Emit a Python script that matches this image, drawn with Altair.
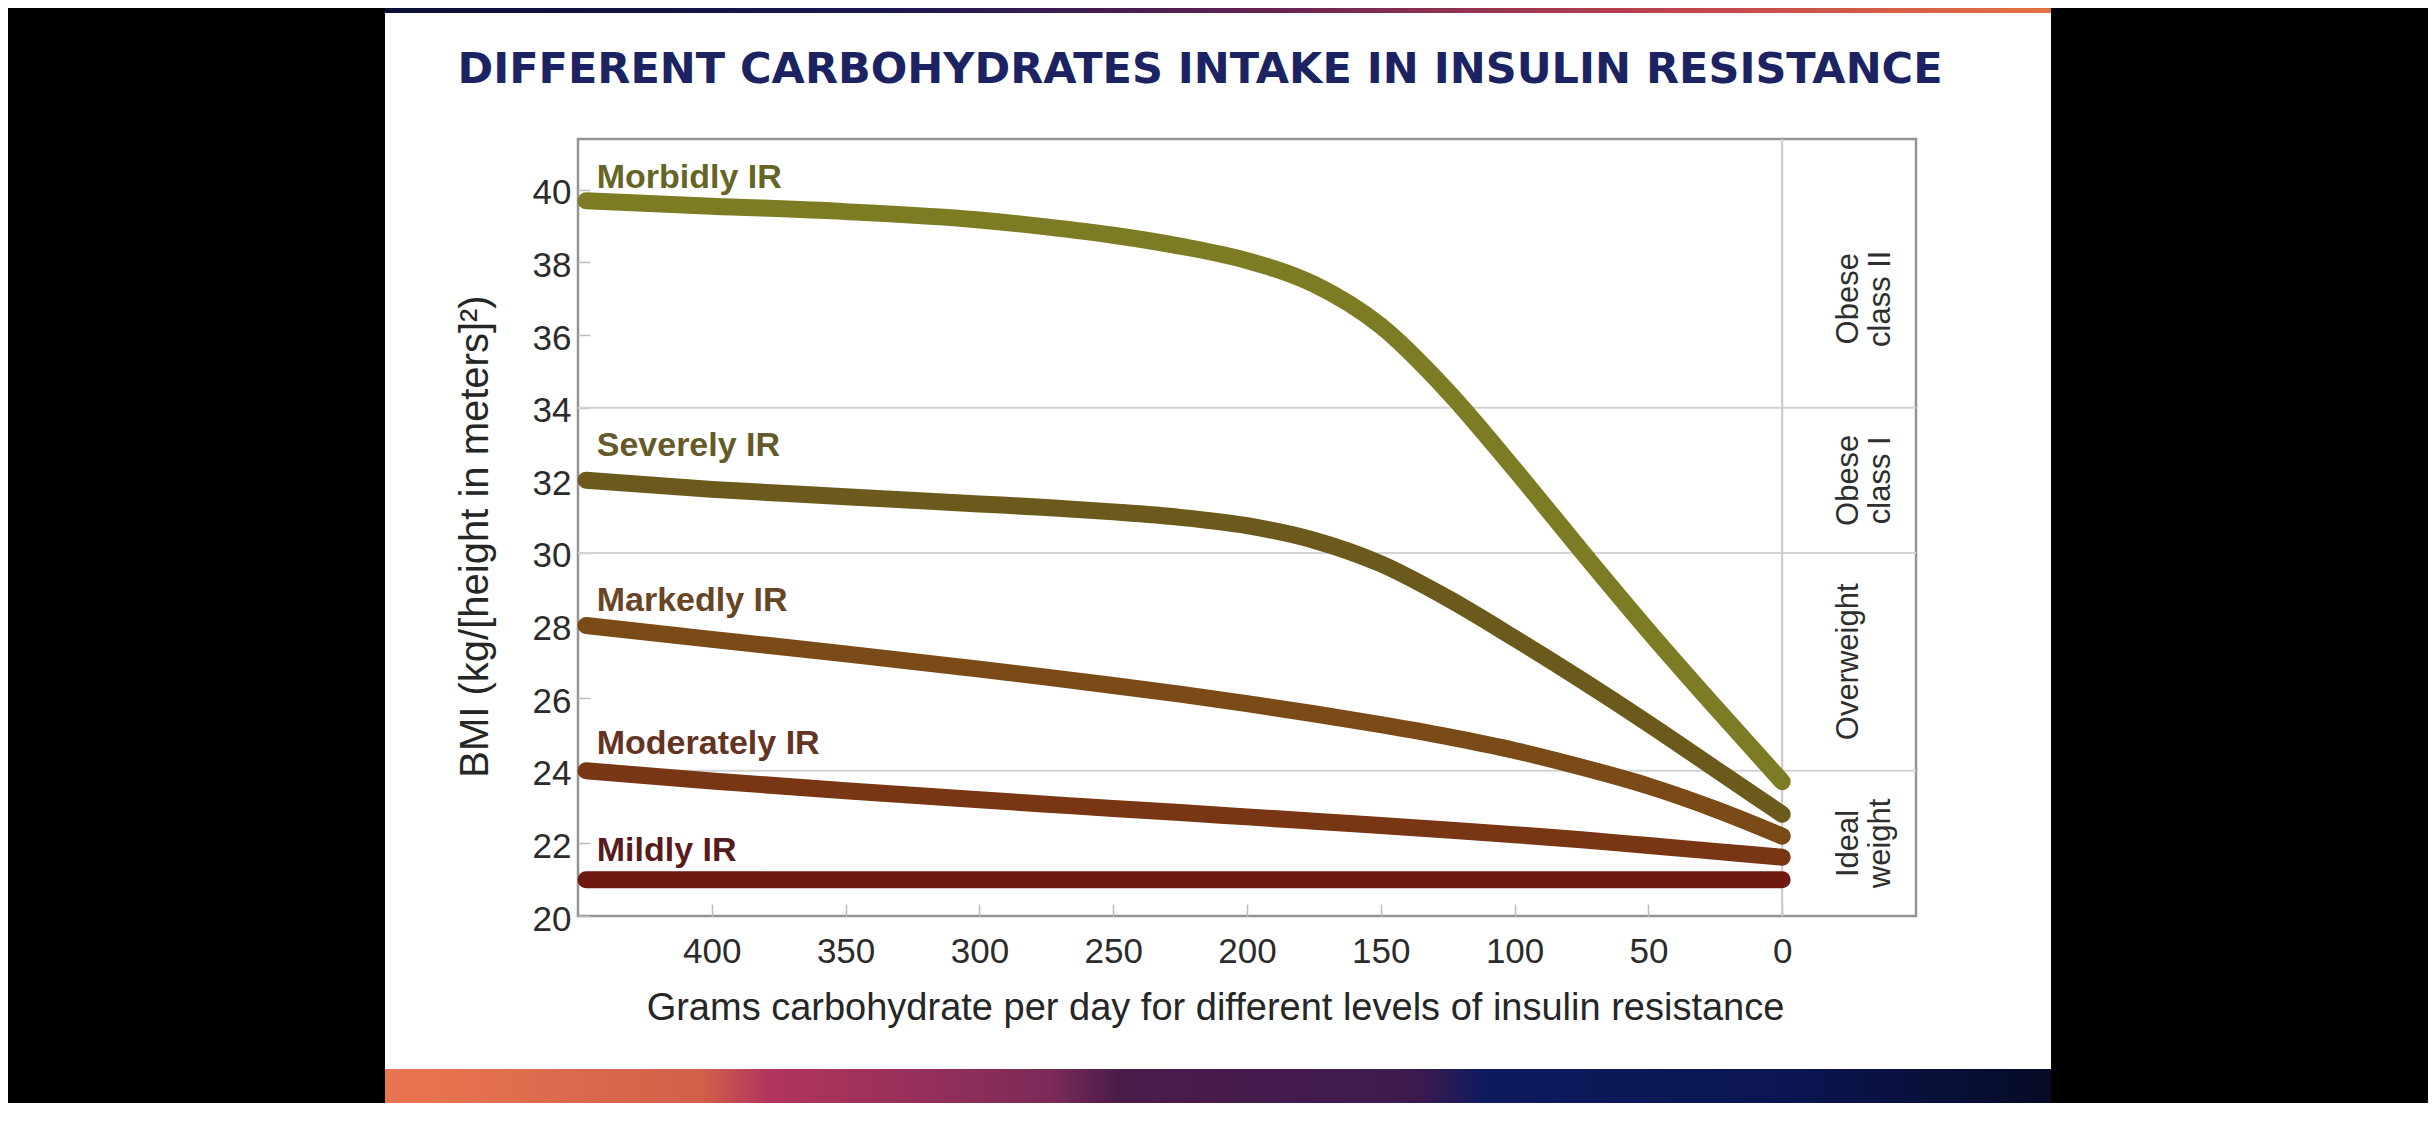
import altair as alt
import pandas as pd

# ---------------- data ----------------
grams = [447, 400, 350, 300, 275, 250, 225, 200, 175, 150, 125, 100, 75, 50, 25, 0]
morbidly_ir = [39.7, 39.55, 39.4, 39.17, 38.98, 38.75, 38.45, 38.05, 37.4, 36.25, 34.45, 32.3, 30.05, 27.85, 25.75, 23.7]
severely_ir = [32.0, 31.75, 31.55, 31.35, 31.25, 31.13, 30.98, 30.75, 30.35, 29.7, 28.75, 27.65, 26.5, 25.3, 24.05, 22.8]
markedly_ir = [28.0, 27.62, 27.22, 26.8, 26.58, 26.35, 26.11, 25.85, 25.57, 25.27, 24.94, 24.56, 24.1, 23.58, 22.94, 22.2]
moderately_ir = [24.0, 23.72, 23.45, 23.2, 23.08, 22.96, 22.85, 22.73, 22.61, 22.49, 22.37, 22.24, 22.1, 21.94, 21.78, 21.62]
mildly_ir = [21.0, 21.0, 21.0, 21.0, 21.0, 21.0, 21.0, 21.0, 21.0, 21.0, 21.0, 21.0, 21.0, 21.0, 21.0, 21.0]

series_names = ["Morbidly IR", "Severely IR", "Markedly IR", "Moderately IR", "Mildly IR"]
series_values = [morbidly_ir, severely_ir, markedly_ir, moderately_ir, mildly_ir]
label_bmi = [40.05, 32.67, 28.41, 24.45, 21.52]

band_edges = [24, 30, 34]
band_names = ["Ideal\nweight", "Overweight", "Obese\nclass I", "Obese\nclass II"]
band_mid = [22, 27, 32, 37]

y_ticks = [20, 22, 24, 26, 28, 30, 32, 34, 36, 38, 40]
x_ticks = [400, 350, 300, 250, 200, 150, 100, 50, 0]

TITLE = "DIFFERENT CARBOHYDRATES INTAKE IN INSULIN RESISTANCE"
X_TITLE = "Grams carbohydrate per day for different levels of insulin resistance"
Y_TITLE = "BMI (kg/[height in meters]\u00b2)"

# ---------------- styling ----------------
line_colors = ["#7d7b24", "#6c5a1d", "#7a4b17", "#793614", "#6e1a10"]
label_colors = ["#666526", "#665a2a", "#684524", "#643322", "#581b1d"]
SANS = "Liberation Sans, Arial, sans-serif"
HEAVY = "DejaVu Sans, sans-serif"

rows = []
for name, vals in zip(series_names, series_values):
    for g, v in zip(grams, vals):
        rows.append({"series": name, "grams": g, "bmi": v})
lines_df = pd.DataFrame(rows)

x_scale = alt.Scale(domain=[-50, 450], reverse=True, nice=False, zero=False)
y_scale = alt.Scale(domain=[20, 41.4], nice=False, zero=False)
color_scale = alt.Scale(domain=series_names, range=line_colors)

one = pd.DataFrame({"k": [0]})


def rect(x1, x2, y1, y2, fill):
    return alt.Chart(one).mark_rect(color=fill).encode(
        x=alt.value(x1), x2=alt.value(x2), y=alt.value(y1), y2=alt.value(y2)
    )


top_grad = alt.LinearGradient(
    gradient="linear", x1=0, x2=1, y1=0, y2=0,
    stops=[
        alt.GradientStop(color="#0a0f35", offset=0.0),
        alt.GradientStop(color="#1a1850", offset=0.3),
        alt.GradientStop(color="#5a2052", offset=0.5),
        alt.GradientStop(color="#b8404f", offset=0.75),
        alt.GradientStop(color="#e27242", offset=1.0),
    ],
)
bottom_grad = alt.LinearGradient(
    gradient="linear", x1=0, x2=1, y1=0, y2=0,
    stops=[
        alt.GradientStop(color="#ea7650", offset=0.0),
        alt.GradientStop(color="#d2604a", offset=0.19),
        alt.GradientStop(color="#b2355d", offset=0.23),
        alt.GradientStop(color="#7c2a58", offset=0.40),
        alt.GradientStop(color="#4b1c4a", offset=0.44),
        alt.GradientStop(color="#3d1a4e", offset=0.62),
        alt.GradientStop(color="#0e1a5e", offset=0.66),
        alt.GradientStop(color="#0a1550", offset=0.85),
        alt.GradientStop(color="#060b26", offset=1.0),
    ],
)

decor = [
    rect(-570, -193, -131, 964, "#000000"),
    rect(1473, 1850, -131, 964, "#000000"),
    rect(-193, 1473, -131, -126, top_grad),
    rect(-193, 1473, 930, 964, bottom_grad),
]

grid = alt.Chart(pd.DataFrame({"bmi": band_edges})).mark_rule(
    color="#d3d3d3", strokeWidth=2
).encode(y=alt.Y("bmi:Q", scale=y_scale))

zero_line = alt.Chart(pd.DataFrame({"grams": [0]})).mark_rule(
    color="#c9c9c9", strokeWidth=2
).encode(x=alt.X("grams:Q", scale=x_scale))

lines = alt.Chart(lines_df).mark_line(
    strokeWidth=17, strokeCap="round", strokeJoin="round", interpolate="monotone"
).encode(
    x=alt.X(
        "grams:Q", scale=x_scale,
        axis=alt.Axis(
            values=x_ticks, title=X_TITLE, offset=-12, tickSize=12,
            tickColor="#bdbdbd", tickWidth=1.5, domain=False, grid=False,
            labelFont=SANS, labelFontSize=35, labelColor="#2b2b2b", labelPadding=18,
            titleFont=SANS, titleFontSize=38, titleFontWeight="normal",
            titleColor="#262626", titleX=637, titleY=104, titleBaseline="middle",
            titleAlign="center",
        ),
    ),
    y=alt.Y(
        "bmi:Q", scale=y_scale,
        axis=alt.Axis(
            values=y_ticks, title=Y_TITLE, offset=-12, tickSize=12,
            tickColor="#bdbdbd", tickWidth=1.5, domain=False, grid=False,
            labelFont=SANS, labelFontSize=35, labelColor="#2b2b2b", labelPadding=7,
            labelOffset=3,
            titleFont=SANS, titleFontSize=40, titleFontWeight="normal",
            titleColor="#262626", titleX=-115, titleY=397, titleAngle=270,
            titleBaseline="middle", titleAlign="center",
        ),
    ),
    color=alt.Color("series:N", scale=color_scale, legend=None),
    order=alt.Order("grams:Q", sort="descending"),
)

labels = alt.Chart(
    pd.DataFrame({"series": series_names, "bmi": label_bmi, "tc": label_colors})
).mark_text(
    align="left", baseline="alphabetic", font=SANS, fontWeight="bold", fontSize=34
).encode(
    x=alt.datum(443),
    y=alt.Y("bmi:Q", scale=y_scale),
    text="series:N",
    color=alt.Color("tc:N", scale=None),
)

bands = alt.Chart(pd.DataFrame({"band": band_names, "bmi": band_mid})).mark_text(
    angle=270, lineBreak="\n", align="center", baseline="middle",
    font=SANS, fontSize=31, lineHeight=32, color="#2e2e2e",
).encode(
    x=alt.datum(-25),
    y=alt.Y("bmi:Q", scale=y_scale),
    text="band:N",
)

title = alt.Chart(one).mark_text(
    text=TITLE, font=HEAVY, fontWeight="bold", fontSize=43, color="#1c2363",
    align="center", baseline="middle",
).encode(x=alt.value(622), y=alt.value(-69))

chart = alt.layer(
    *decor, grid, zero_line, lines, labels, bands, title
).properties(
    width=1338, height=777,
    padding={"left": 570, "top": 131, "right": 512, "bottom": 194},
    autosize=alt.AutoSizeParams(type="none"),
    background="white",
).configure_view(stroke="#949494", strokeWidth=2.5).configure_axis(grid=False)

chart.save("out.html", embed_options={"renderer": "svg", "actions": False})
